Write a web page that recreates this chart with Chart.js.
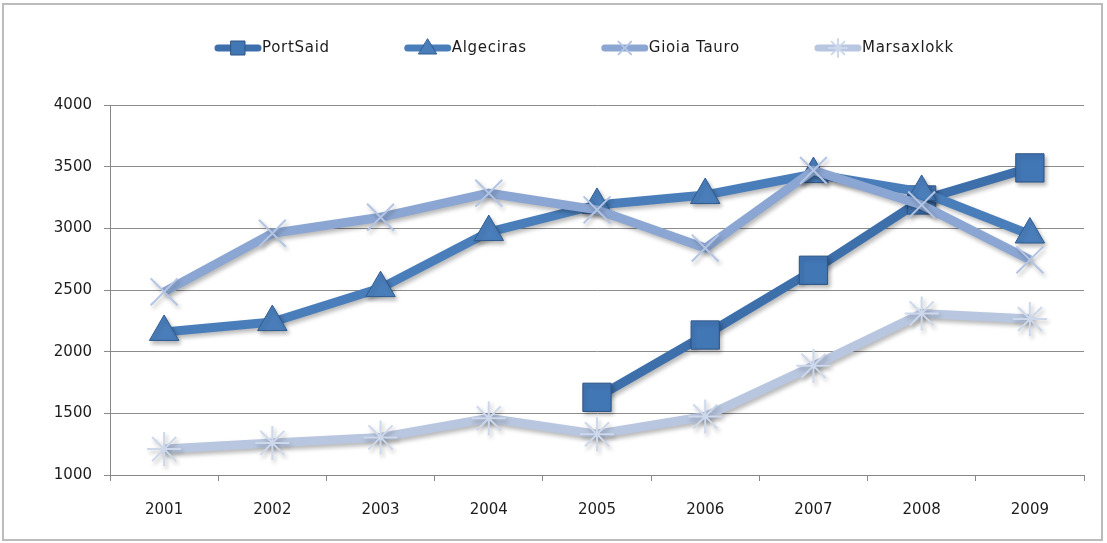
<!DOCTYPE html>
<html>
<head>
<meta charset="utf-8">
<script src="https://cdn.jsdelivr.net/npm/chart.js@4/dist/chart.umd.min.js"></script>
<style>
  html, body { margin: 0; padding: 0; background: #fff; }
  #wrap { position: relative; width: 1107px; height: 543px; }
</style>
</head>
<body>
<div id="wrap"><canvas id="chart" width="1107" height="543"></canvas></div>
<script>
const years = ['2001', '2002', '2003', '2004', '2005', '2006', '2007', '2008', '2009'];
const portSaid = [null, null, null, null, 1630, 2135, 2660, 3230, 3490];
const algeciras = [2160, 2240, 2515, 2970, 3190, 3270, 3440, 3295, 2950];
const gioiaTauro = [2485, 2960, 3090, 3285, 3150, 2840, 3470, 3190, 2745];
const marsaxlokk = [1210, 1260, 1305, 1460, 1330, 1475, 1885, 2310, 2265];
const yTicks = [1000, 1500, 2000, 2500, 3000, 3500, 4000];

const FONT = '"DejaVu Sans", sans-serif';
const TEXT = '#1c1c1c';

// series look, in legend order
const styles = [
  { line: '#3d6fab', fill: '#4277b6', edge: '#2d5485', marker: 'rect', radius: 20, mw: 1 },
  { line: '#4a7ebb', fill: '#4a7ebb', edge: '#2f5b8f', marker: 'triangle', radius: 17, mw: 1 },
  { line: '#8ba6d2', fill: '#b4c5e4', edge: '#b4c5e4', marker: 'crossRot', radius: 19, mw: 2 },
  { line: '#b8c6df', fill: '#cdd8ec', edge: '#cdd8ec', marker: 'star', radius: 17, mw: 2 },
];

const ctx = document.getElementById('chart').getContext('2d');

function makeDataset(label, data, st, order) {
  return {
    label: label,
    data: data,
    borderColor: st.line,
    borderWidth: 9,
    pointStyle: st.marker,
    pointRadius: st.radius,
    pointBackgroundColor: st.fill,
    pointBorderColor: st.edge,
    pointBorderWidth: st.mw,
    tension: 0,
    spanGaps: false,
    order: order,
  };
}

const shadowPlugin = {
  id: 'shadow',
  beforeDatasetsDraw(chart) {
    const c = chart.ctx;
    c.save();
    c.shadowColor = 'rgba(0,0,0,0.28)';
    c.shadowBlur = 4;
    c.shadowOffsetX = 2;
    c.shadowOffsetY = 3;
  },
  afterDatasetsDraw(chart) {
    chart.ctx.restore();
  }
};

const framePlugin = {
  id: 'frame',
  beforeDraw(chart) {
    const c = chart.ctx;
    c.save();
    c.strokeStyle = '#bcbcbc';
    c.lineWidth = 2;
    c.strokeRect(3, 4, chart.width - 8, chart.height - 7);
    c.restore();
  }
};

// legend drawn by hand: line sample + marker + label
const legendPlugin = {
  id: 'lineLegend',
  afterDraw(chart) {
    const c = chart.ctx;
    const sampleW = 46;
    const gap = 75;
    const y = 48;
    c.save();
    c.font = '15px ' + FONT;
    c.letterSpacing = '0.7px';
    c.textBaseline = 'middle';
    let x = 215;
    chart.data.datasets.forEach(function (ds, i) {
      const st = styles[i];
      const cx = x + sampleW / 2;
      c.strokeStyle = st.line;
      c.lineWidth = 7;
      c.lineCap = 'round';
      c.beginPath();
      c.moveTo(x + 3, y);
      c.lineTo(x + sampleW - 3, y);
      c.stroke();
      c.fillStyle = st.fill;
      c.strokeStyle = st.edge;
      c.lineWidth = st.mw;
      c.beginPath();
      if (st.marker === 'rect') {
        c.rect(cx - 7, y - 7, 14, 14);
        c.fill(); c.stroke();
      } else if (st.marker === 'triangle') {
        c.moveTo(cx, y - 9);
        c.lineTo(cx + 9, y + 6);
        c.lineTo(cx - 9, y + 6);
        c.closePath();
        c.fill(); c.stroke();
      } else {
        Chart.helpers.drawPoint(c, {
          pointStyle: st.marker,
          radius: 9,
          rotation: 0,
          borderWidth: 1.5,
        }, cx, y);
      }
      c.fillStyle = TEXT;
      c.textAlign = 'left';
      c.fillText(ds.label, x + sampleW + 1, y);
      x += sampleW + 1 + c.measureText(ds.label).width + gap;
    });
    c.restore();
  }
};

new Chart(ctx, {
  type: 'line',
  data: {
    labels: years,
    datasets: [
      makeDataset('PortSaid', portSaid, styles[0], 3),
      makeDataset('Algeciras', algeciras, styles[1], 2),
      makeDataset('Gioia Tauro', gioiaTauro, styles[2], 1),
      makeDataset('Marsaxlokk', marsaxlokk, styles[3], 0),
    ]
  },
  options: {
    responsive: false,
    animation: false,
    events: [],
    layout: {
      padding: { top: 105, right: 23, bottom: 0, left: 0 }
    },
    plugins: {
      legend: { display: false },
      tooltip: { enabled: false },
    },
    scales: {
      x: {
        offset: true,
        grid: {
          display: true,
          offset: true,
          drawOnChartArea: false,
          drawTicks: true,
          tickLength: 6,
          color: '#888',
        },
        border: { display: true, color: '#888', width: 1 },
        ticks: {
          color: TEXT,
          font: { family: FONT, size: 15 },
          padding: 20,
          maxRotation: 0,
        },
        afterFit(scale) { scale.height = 68; },
      },
      y: {
        min: 1000,
        max: 4000,
        afterBuildTicks(scale) {
          scale.ticks = yTicks.map(function (v) { return { value: v }; });
        },
        grid: {
          color: '#8c8c8c',
          lineWidth: 1,
          drawTicks: true,
          tickLength: 6,
        },
        border: { display: true, color: '#888', width: 1 },
        ticks: {
          color: TEXT,
          font: { family: FONT, size: 15 },
          padding: 12,
          callback: function (v) { return String(v); },
        },
        afterFit(scale) { scale.width = 110; },
      }
    }
  },
  plugins: [framePlugin, shadowPlugin, legendPlugin]
});
</script>
</body>
</html>
